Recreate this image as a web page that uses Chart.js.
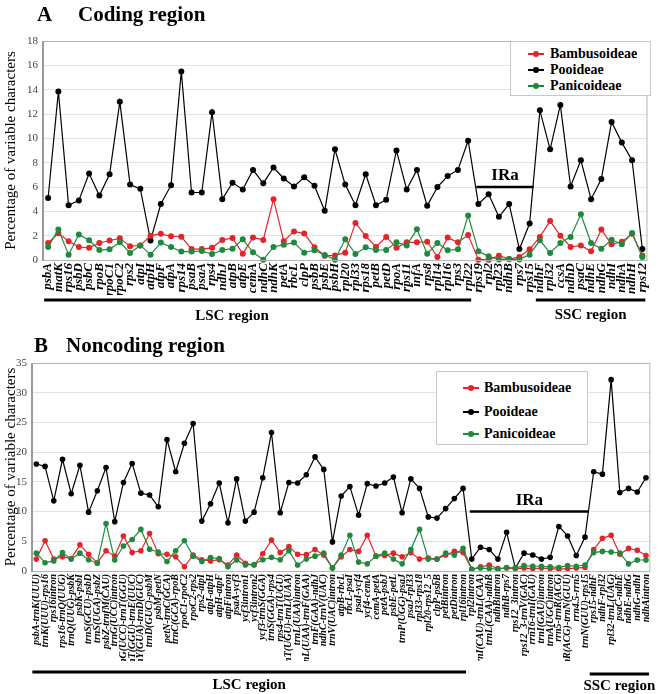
<!DOCTYPE html>
<html>
<head>
<meta charset="utf-8">
<script src="https://cdn.jsdelivr.net/npm/chart.js@4.4.1/dist/chart.umd.min.js"></script>
<style>
  html,body{margin:0;padding:0;background:#fff;}
  body{width:661px;height:694px;position:relative;overflow:hidden;font-family:'Liberation Serif',serif;}
  .wrap{position:absolute;left:0;width:661px;}
  .ttl{position:absolute;font:bold 21px 'Liberation Serif',serif;line-height:24px;color:#000;white-space:nowrap;}
  .legend{position:absolute;background:#fff;border:1px solid #c8c8c8;box-sizing:border-box;}
  .row{position:absolute;left:0;height:16px;font:bold 14px 'Liberation Serif',serif;line-height:16px;white-space:nowrap;}
  .mk{position:absolute;top:7px;height:1.5px;width:16px;}
  .dot{position:absolute;top:4.5px;width:6px;height:6px;border-radius:50%;}
  .lt{position:absolute;top:0;}
</style>
</head>
<body>
<div class="wrap" style="top:0;height:340px"><canvas id="chartA"></canvas></div>
<div class="wrap" style="top:330px;height:364px"><canvas id="chartB"></canvas></div>

<div class="ttl" style="left:37px;top:2px">A</div>
<div class="ttl" style="left:78px;top:2px">Coding region</div>
<div class="ttl" style="left:34px;top:333px">B</div>
<div class="ttl" style="left:66px;top:333px">Noncoding region</div>

<div class="legend" id="legA" style="left:510px;top:41px;width:141px;height:55px"></div>
<div class="legend" id="legB" style="left:436px;top:371px;width:152px;height:74px"></div>

<script>
// ---------------- Panel A: coding region ----------------
const categoriesA = ['psbA','matK','rps16','psbD','psbC','rpoB','rpoC1','rpoC2','rps2','atpI','atpH','atpF','atpA','rps14','psaB','psaA','rps4','ndhJ','atpB','atpE','cemA','ndhC','ndhK','petA','rbcL','clpP','psbB','psbE','psbH','rpl20','rpl33','rps18','petB','petD','rpoA','rps11','infA','rps8','rpl14','rpl16','rps3','rpl22','rps19','rpl2','rpl23','ndhB','rps7','rps15','ndhF','rpl32','ccsA','ndhD','psaC','ndhE','ndhG','ndhI','ndhA','ndhH','rps12'];
const bambusoideaeA = [1.4,2.2,1.55,1.07,1.0,1.4,1.6,1.78,1.13,1.2,2.0,2.15,1.95,1.92,0.9,0.9,1.0,1.65,1.8,0.52,1.85,1.65,5.0,1.55,2.35,2.17,1.05,0.35,0.38,0.6,3.05,1.97,1.07,1.9,1.0,1.45,1.45,1.5,0.25,1.84,1.45,2.05,0.03,0.03,0.35,0.08,0.25,0.88,1.9,3.2,2.0,1.07,1.2,0.71,2.5,1.29,1.5,2.15,0.38];
const pooideaeA = [5.1,13.85,4.5,4.9,7.1,5.3,7.05,13.0,6.2,5.85,1.6,4.6,6.15,15.5,5.55,5.55,12.15,5.0,6.35,5.8,7.4,6.3,7.6,6.7,6.05,6.8,6.1,4.05,9.1,6.2,4.5,7.05,4.5,4.95,9.0,5.8,7.4,4.45,6.0,6.9,7.4,9.8,4.6,5.4,3.55,4.6,0.9,3.0,12.3,9.1,12.75,6.05,8.2,5.0,6.65,11.35,9.65,8.2,0.9];
const panicoideaeA = [1.07,2.5,0.44,2.1,1.62,0.82,0.88,1.45,0.58,1.2,0.44,1.43,1.07,0.69,0.69,0.74,0.49,0.82,0.93,1.7,0.63,0.03,1.07,1.26,1.43,0.6,0.8,0.41,0.03,1.7,0.49,1.04,0.82,0.82,1.45,1.2,2.52,0.52,1.4,0.8,0.88,3.65,0.71,0.3,0.05,0.08,0.05,0.44,1.62,0.58,1.4,1.9,3.76,1.4,0.93,1.67,1.29,2.22,0.25];
const regionsA = [['LSC region','psbA','rpl22'],['SSC region','ndhF','rps12']];
const irA = ['IRa','rps19','rps15'];

// ---------------- Panel B: noncoding region ----------------
const categoriesB = ['psbA-trnK(UUU)','trnK(UUU)-rps16','rps16intron','rps16-trnQ(UUG)','trnQ(UUG)-psbK','psbK-psbI','trnS(GCU)-psbD','trnS(UGA)-psbZ','psbZ-trnfM(CAU)','trnG(UCC)intron','trnG(UCC)-trnT(GGU)','trnT(GGU)-trnE(UUC)','trnY(GUA)-trnD(GUC)','trnD(GUC)-psbM','psbM-petN','petN-trnC(GCA)','trnC(GCA)-rpoB','rpoC1-rpoC2','rpoC2-rps2','rps2-atpI','atpI-atpH','atpH-atpF','atpFintron','psaA-ycf3','ycf3intron1','ycf3intron2','ycf3-trnS(GGA)','trnS(GGA)-rps4','rps4-trnT(UGU)','trnT(UGU)-trnL(UAA)','trnL(UAA)intron','trnL(UAA)-trnF(GAA)','trnF(GAA)-ndhJ','ndhC-trnV(UAC)','trnV(UAC)intron','atpB-rbcL','rbcL-psaI','psaI-ycf4','ycf4-cemA','cemA-petA','petA-psbJ','psbE-petL','trnP(UGG)-psaJ','psaJ-rpl33','rpl33-rps18','rpl20-rps12_5','clpP-psbB','petBintron','petDintron','rpl16intron','rpl2intron','trnI(CAU)-trnL(CAA)','trnL(CAA)-ndhB','ndhBintron','ndhB-rps7','rps12_3intron','rps12_3-trnV(GAC)','rrn16-trnI(GAU)','trnI(GAU)intron','trnA(UGC)intron','rrn5-trnR(ACG)','trnR(ACG)-trnN(GUU)','rrn4.5-rrn5','trnN(GUU)-rps15','rps15-ndhF','ndhF-rpl32','rpl32-trnL(UAG)','psaC-ndhE','ndhE-ndhG','ndhG-ndhI','ndhAintron'];
const bambusoideaeB = [2.0,5.1,2.0,2.4,2.1,4.4,2.8,1.4,3.4,2.5,5.9,3.1,3.4,6.3,2.9,2.8,2.4,0.7,2.7,1.9,1.7,1.9,1.0,2.7,1.3,1.0,2.9,5.2,3.1,4.1,2.8,2.75,3.6,2.7,0.5,2.4,3.6,3.3,6.0,2.5,2.6,3.0,2.4,3.1,2.0,2.2,2.0,2.7,3.3,3.1,0.3,0.7,1.0,0.4,0.5,0.4,0.5,0.4,0.5,0.4,0.3,0.4,0.5,0.6,3.6,5.5,6.0,2.8,3.8,3.5,2.6];
const pooideaeB = [18.0,17.6,11.8,18.8,13.0,17.8,9.9,13.5,17.4,8.3,14.9,18.1,13.1,12.8,10.8,22.1,16.7,21.5,24.8,8.4,11.3,14.8,8.1,15.5,8.4,9.9,15.7,23.3,9.8,14.9,14.8,16.2,19.2,17.1,4.9,12.6,14.2,9.4,14.7,14.3,14.8,15.8,9.8,15.5,13.9,9.1,8.9,10.5,12.2,13.9,2.0,4.0,3.6,2.0,6.5,0.5,3.0,2.7,2.0,2.3,7.5,5.9,2.6,5.7,16.7,16.3,32.2,13.2,13.9,13.3,15.7];
const panicoideaeB = [3.0,1.4,1.7,3.1,2.0,3.0,1.9,1.3,8.0,1.85,4.2,5.3,7.0,3.65,3.2,1.6,3.4,5.1,2.5,1.6,2.25,2.1,0.7,1.85,1.0,1.1,1.9,2.3,1.9,3.4,1.0,2.0,2.5,3.0,0.5,2.7,6.0,1.5,1.2,2.5,3.0,2.0,1.2,3.6,7.0,2.0,2.0,3.0,2.7,3.8,0.3,0.5,0.4,0.3,0.6,0.5,0.9,0.8,0.8,0.7,0.6,0.9,0.8,1.0,3.1,3.3,3.2,3.0,1.2,1.85,1.85];
const regionsB = [['LSC region','psbA-trnK(UUU)','rpl16intron'],['SSC region','rps15-ndhF','ndhAintron']];
const irB = ['IRa','rpl2intron','trnN(GUU)-rps15'];

const seriesNames = ['Bambusoideae','Pooideae','Panicoideae'];
const seriesColors = ['#e3252b','#000000','#1f8a3e'];
const yTitle = 'Percentage of variable characters';

// ---------------- drawing ----------------
const FONT = "'Liberation Serif', serif";

const decorPlugin = {
  id: 'decor',
  afterDraw(chart, args, o) {
    const {ctx, chartArea: ca, scales: {x, y}} = chart;
    const cats = chart.data.labels;
    ctx.save();
    // plot frame
    ctx.strokeStyle = '#b4b4b4';
    ctx.lineWidth = 1;
    ctx.strokeRect(ca.left + 0.5, ca.top + 0.5, ca.right - ca.left - 1, ca.bottom - ca.top);
    ctx.strokeStyle = '#9a9a9a';
    ctx.lineWidth = 2;
    ctx.beginPath(); ctx.moveTo(ca.left, ca.top); ctx.lineTo(ca.left, ca.bottom + 1); ctx.stroke();
    // IR line
    const ir = o.ir;
    const ix0 = x.getPixelForValue(cats.indexOf(ir[1])) - 2;
    const ix1 = x.getPixelForValue(cats.indexOf(ir[2])) + 4;
    const iy = y.getPixelForValue(o.irLevel);
    ctx.strokeStyle = '#000';
    ctx.lineWidth = 2.5;
    ctx.beginPath(); ctx.moveTo(ix0, iy); ctx.lineTo(ix1, iy); ctx.stroke();
    ctx.fillStyle = '#000';
    ctx.font = 'bold 17px ' + FONT;
    ctx.textAlign = 'center';
    ctx.textBaseline = 'middle';
    ctx.fillText(ir[0], (ix0 + ix1) / 2 + o.irTextDx, iy - 11);
    // region bars
    ctx.lineWidth = 3;
    ctx.font = 'bold 15px ' + FONT;
    o.regions.forEach((r, k) => {
      const x0 = Math.max(ca.left, x.getPixelForValue(cats.indexOf(r[1])) - 4);
      const x1 = Math.min(ca.right, x.getPixelForValue(cats.indexOf(r[2])) + 3);
      const yy = ca.bottom + o.barOffset[k];
      ctx.beginPath(); ctx.moveTo(x0, yy); ctx.lineTo(x1, yy); ctx.stroke();
      ctx.fillText(r[0], x0 + (x1 - x0) * o.textFrac[k], ca.bottom + o.textOffset[k]);
    });
    ctx.restore();
  }
};

function makeChart(id, cats, series, cfg) {
  const datasets = series.map((d, k) => ({
    label: seriesNames[k],
    data: d,
    borderColor: seriesColors[k],
    backgroundColor: seriesColors[k],
    pointBackgroundColor: seriesColors[k],
    pointBorderColor: seriesColors[k],
    borderWidth: 1.2,
    pointRadius: cfg.pointRadius,
    pointBorderWidth: 0,
    tension: 0,
    clip: false,
    order: k === 1 ? 3 : (k === 0 ? 2 : 1)
  }));
  return new Chart(document.getElementById(id), {
    type: 'line',
    data: {labels: cats, datasets},
    options: {
      responsive: true,
      maintainAspectRatio: false,
      animation: false,
      devicePixelRatio: 1,
      events: [],
      layout: {padding: cfg.padding},
      plugins: {legend: {display: false}, tooltip: {enabled: false}, decor: cfg.decor},
      scales: {
        x: {
          type: 'category',
          offset: true,
          grid: {display: false, drawTicks: false},
          border: {display: false},
          ticks: {
            autoSkip: false, maxRotation: 90, minRotation: 90, padding: 3, color: '#000',
            font: {family: FONT, size: cfg.xFont, style: 'italic', weight: 'bold'}
          },
          afterFit(s) { s.height = cfg.xHeight; }
        },
        y: {
          min: 0, max: cfg.yMax,
          grid: {color: '#e2e2e2', lineWidth: 1, drawTicks: false},
          border: {display: false},
          ticks: {stepSize: cfg.yStep, padding: 5, color: '#444', font: {family: FONT, size: 11}},
          title: {display: true, text: yTitle, color: '#000', font: {family: FONT, size: 15}, padding: {top: 2, bottom: 0}},
          afterFit(s) { s.width = cfg.yWidth; }
        }
      }
    },
    plugins: [decorPlugin]
  });
}

makeChart('chartA', categoriesA, [bambusoideaeA, pooideaeA, panicoideaeA], {
  pointRadius: 3, padding: {top: 41, right: 10, left: 0, bottom: 45},
  xFont: 13, xHeight: 35, yMax: 18, yStep: 2, yWidth: 43,
  decor: {regions: regionsA, ir: irA, irLevel: 6, irTextDx: 0,
          barOffset: [40, 40], textOffset: [56, 55], textFrac: [0.44, 0.5]}
});

makeChart('chartB', categoriesB, [bambusoideaeB, pooideaeB, panicoideaeB], {
  pointRadius: 2.8, padding: {top: 33, right: 5, left: 0, bottom: 33},
  xFont: 10, xHeight: 90, yMax: 35, yStep: 5, yWidth: 32,
  decor: {regions: regionsB, ir: irB, irLevel: 10, irTextDx: 0,
          barOffset: [101, 103], textOffset: [114, 115], textFrac: [0.5, 0.5]}
});

// ---------------- HTML legends ----------------
function buildLegend(id, rowTops, mkLeft, textLeft) {
  const box = document.getElementById(id);
  seriesNames.forEach((n, k) => {
    const row = document.createElement('div');
    row.className = 'row';
    row.style.top = rowTops[k] + 'px';
    row.style.width = '100%';
    row.innerHTML = '<span class="mk" style="left:' + mkLeft + 'px;background:' + seriesColors[k] + '"></span>' +
      '<span class="dot" style="left:' + (mkLeft + 5) + 'px;background:' + seriesColors[k] + '"></span>' +
      '<span class="lt" style="left:' + textLeft + 'px">' + n + '</span>';
    box.appendChild(row);
  });
}
buildLegend('legA', [4, 20, 36], 17, 39);
buildLegend('legB', [8, 32, 54], 26, 47);
</script>
</body>
</html>
